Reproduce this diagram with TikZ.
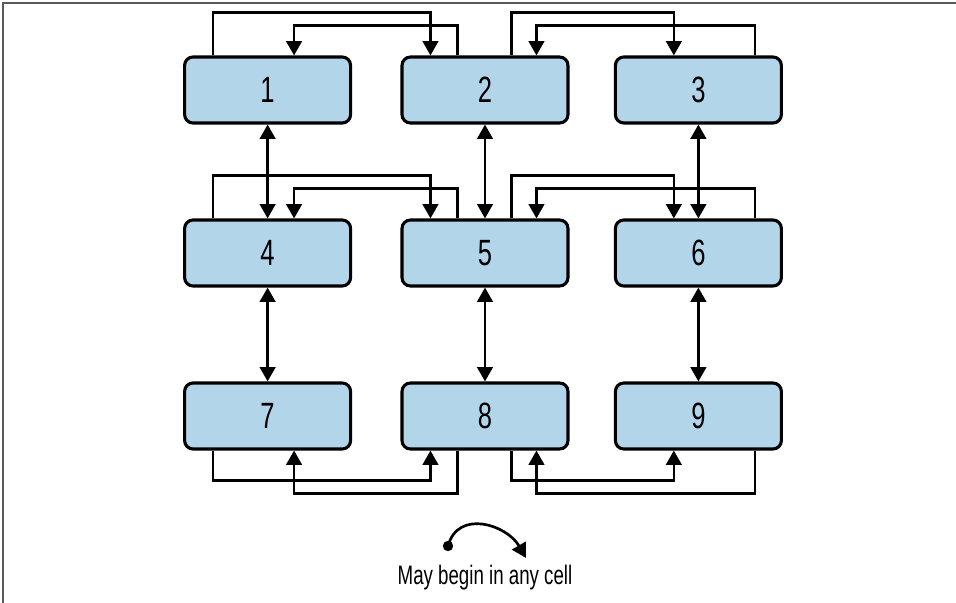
\documentclass[tikz,border=0pt]{standalone}
\usepackage{fontspec}
\setmainfont{Liberation Sans}[FakeStretch=0.7]
\usetikzlibrary{arrows.meta,positioning}
\definecolor{CellBlue}{RGB}{179,213,234}
\definecolor{FrameGray}{RGB}{90,90,90}

\begin{document}
\begin{tikzpicture}[
  cell/.style={
    draw, fill=CellBlue,
    rounded corners=6pt,
    line width=2.2pt,
    minimum width=4.15cm,
    minimum height=1.65cm,
    font=\fontsize{26}{30}\selectfont
  },
  hop/.style={
    -{Triangle[length=3.6mm,width=3.9mm]},
    line width=1.9pt},
  swap/.style={
    {Triangle[length=3.6mm,width=3.9mm]}-{Triangle[length=3.6mm,width=3.9mm]},
    line width=1.9pt},
  note/.style={
    font=\fontsize{19}{22}\selectfont}
]

\useasboundingbox (0,0) rectangle (23.9,-15.075);
\draw[FrameGray, line width=1.5pt]
  (0.075,-15.075) -- (0.075,-0.075) -- (23.9,-0.075);

\node[cell] (c1) at (6.69,-2.25) {1};
\node[cell] (c2) at (12.125,-2.25) {2};
\node[cell] (c3) at (17.46,-2.25) {3};
\node[cell] (c4) at (6.69,-6.325) {4};
\node[cell] (c5) at (12.125,-6.325) {5};
\node[cell] (c6) at (17.46,-6.325) {6};
\node[cell] (c7) at (6.69,-10.4) {7};
\node[cell] (c8) at (12.125,-10.4) {8};
\node[cell] (c9) at (17.46,-10.4) {9};

% columns
\draw[swap] (c1) -- (c4);
\draw[swap] (c2) -- (c5);
\draw[swap] (c3) -- (c6);
\draw[swap] (c4) -- (c7);
\draw[swap] (c5) -- (c8);
\draw[swap] (c6) -- (c9);

% first row
\draw[hop] ([xshift=0.75cm]c1.north west) -- ++(0,1.07)
  -| ([xshift=0.75cm]c2.north west);
\draw[hop] ([xshift=1.425cm]c2.north west) -- ++(0,0.75)
  -| ([xshift=2.775cm]c1.north west);
\draw[hop] ([xshift=2.775cm]c2.north west) -- ++(0,1.07)
  -| ([xshift=1.5cm]c3.north west);
\draw[hop] ([xshift=3.525cm]c3.north west) -- ++(0,0.75)
  -| ([xshift=3.4cm]c2.north west);

% second row
\draw[hop] ([xshift=0.75cm]c4.north west) -- ++(0,1.07)
  -| ([xshift=0.75cm]c5.north west);
\draw[hop] ([xshift=1.425cm]c5.north west) -- ++(0,0.75)
  -| ([xshift=2.775cm]c4.north west);
\draw[hop] ([xshift=2.775cm]c5.north west) -- ++(0,1.07)
  -| ([xshift=1.5cm]c6.north west);
\draw[hop] ([xshift=3.525cm]c6.north west) -- ++(0,0.75)
  -| ([xshift=3.4cm]c5.north west);

% third row
\draw[hop] ([xshift=0.75cm]c7.south west) -- ++(0,-0.75)
  -| ([xshift=0.75cm]c8.south west);
\draw[hop] ([xshift=1.425cm]c8.south west) -- ++(0,-1.07)
  -| ([xshift=2.775cm]c7.south west);
\draw[hop] ([xshift=2.775cm]c8.south west) -- ++(0,-0.75)
  -| ([xshift=1.5cm]c9.south west);
\draw[hop] ([xshift=3.525cm]c9.south west) -- ++(0,-1.07)
  -| ([xshift=3.4cm]c8.south west);

% legend
\node[note] (legend) at (12.125,-14.45) {May begin in any cell};
\coordinate (start) at (11.2,-13.65);
\coordinate (finish) at (13.15,-13.95);
\fill (start) circle (0.13);
\draw[hop] (start) to[out=75, in=120, looseness=1.25] (finish);

\end{tikzpicture}
\end{document}
